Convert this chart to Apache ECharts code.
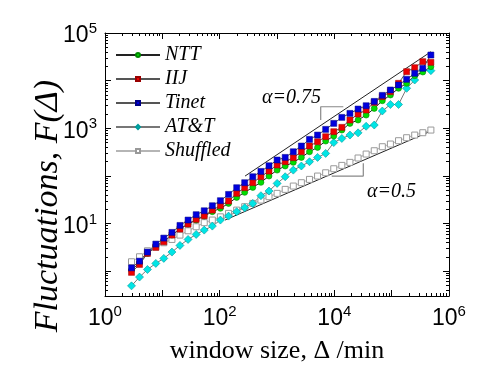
<!DOCTYPE html>
<html>
<head>
<meta charset="utf-8">
<script src="https://cdn.jsdelivr.net/npm/echarts@6/dist/echarts.min.js"></script>
<style>
  html, body { margin: 0; padding: 0; background: #fff; }
  #main { width: 491px; height: 379px; }
</style>
</head>
<body>
<div id="main"></div>
<script>
// window sizes (min)
const windowSizes = [2.9, 4.0, 5.5, 7.7, 10.6, 14.7, 20.3, 28.1, 38.9, 53.8, 74.5, 103, 143, 198, 273, 378, 524, 725, 1004, 1390,
  1923, 2661, 3684, 5100, 7060, 9772, 13520, 18710, 25940, 35890, 49660, 68710, 95070, 131800, 182400, 252300, 349100, 483100];

const ntt = [1.05, 1.50, 2.35, 3.35, 4.27, 5.70, 7.75, 9.72, 11.8, 14.3, 17.7, 20.8, 26.4, 35.3, 45.0, 57.3, 73.0, 99.1, 132, 161,
  192, 244, 321, 396, 538, 686, 916, 1265, 1486, 1892, 2610, 3780, 4990, 6890, 8770, 12700, 15170, 19630];
const iij = [0.94, 1.38, 2.35, 3.14, 4.13, 5.70, 7.62, 9.72, 12.2, 14.5, 19.1, 23.6, 29.6, 42.9, 56.4, 71.8, 95.9, 126, 169, 198,
  240, 321, 423, 521, 664, 846, 1043, 1486, 1987, 2410, 3490, 4600, 5860, 8770, 15420, 18700, 25000, 24200];
const tinet = [1.17, 1.62, 2.51, 3.69, 4.93, 6.49, 9.1, 11.8, 15.3, 18.5, 23.6, 30.1, 40.8, 56.4, 71.8, 95.9, 124, 163, 215, 244,
  321, 423, 583, 719, 946, 1265, 1690, 2050, 2530, 2970, 3660, 4900, 6350, 8090, 10640, 14220, 18110, 34500];
const att = [0.49, 0.75, 1.08, 1.45, 1.85, 2.51, 3.46, 4.62, 5.89, 7.26, 8.81, 11.8, 14.3, 17.7, 21.4, 26.4, 38.3, 48.0, 69.5, 95.9,
  132, 161, 198, 244, 296, 500, 610, 720, 800, 1100, 1167, 2300, 3150, 3150, 6890, 10300, 16700, 16200];
const shuffled = [1.57, 2.00, 2.67, 3.24, 3.94, 4.62, 5.70, 7.03, 8.53, 10.4, 11.8, 13.8, 16.3, 19.1, 22.5, 26.4, 31.0, 36.5, 42.9, 52.0,
  61.1, 71.8, 84.3, 99.1, 116, 141, 166, 192, 237, 287, 337, 409, 466, 547, 632, 719, 805, 916];

// guide lines and their slope brackets
const guide075 = [[277, 99], [485000, 40460]];
const guide05 = [[124, 11.8], [485000, 873]];
const bracket075 = [[5785, 1486], [5785, 2830], [14350, 2830]];
const bracket05 = [[9000, 99], [32000, 99], [32000, 183]];

const pairs = (ys) => windowSizes.map((x, i) => [x, ys[i]]);

const serif = "'Liberation Serif', 'Times New Roman', serif";
const sans = "'Liberation Sans', Arial, sans-serif";

function powLabel(v, odd) {
  const e = Math.round(Math.log10(v));
  if (Math.abs(Math.log10(v) - e) > 1e-6) return '';
  if (Math.abs(e % 2) !== (odd ? 1 : 0)) return '';
  return '{b|10}{s|' + e + '}';
}

const richPow = {
  b: { fontSize: 23, fontFamily: sans, color: '#000', lineHeight: 23, padding: [6, 0, 0, 0] },
  s: { fontSize: 15, fontFamily: sans, color: '#000', lineHeight: 15, verticalAlign: 'top' }
};

function logAxis(pos, min, max, showLabel, odd) {
  return {
    type: 'log',
    logBase: 10,
    position: pos,
    min: min,
    max: max,
    splitNumber: 6,
    axisLine: { show: true, onZero: false, lineStyle: { color: '#000', width: 1 } },
    axisTick: { show: true, inside: true, length: 6, lineStyle: { color: '#000' } },
    minorTick: { show: true, splitNumber: 9, length: 3, lineStyle: { color: '#000' } },
    splitLine: { show: false },
    minorSplitLine: { show: false },
    axisLabel: {
      show: showLabel,
      margin: 8,
      formatter: (v) => powLabel(v, odd),
      rich: richPow
    }
  };
}

const chart = echarts.init(document.getElementById('main'));

const markerLine = (color) => ({ color: color, width: 1 });

chart.setOption({
  backgroundColor: '#fff',
  animation: false,
  grid: { left: 105, right: 42, top: 33, bottom: 83, show: false },
  xAxis: [
    Object.assign(logAxis('bottom', 1, 1e6, true, false), {
      name: 'window size, \u0394 /min',
      nameLocation: 'middle',
      nameGap: 42,
      nameTextStyle: { fontFamily: serif, fontSize: 26, color: '#000' }
    }),
    logAxis('top', 1, 1e6, false, false)
  ],
  yAxis: [
    logAxis('left', 0.3, 1e5, true, true),
    logAxis('right', 0.3, 1e5, false, true)
  ],
  legend: {
    data: ['NTT', 'IIJ', 'Tinet', 'AT&T', 'Shuffled'],
    orient: 'vertical',
    left: 110,
    top: 40,
    itemWidth: 44,
    itemHeight: 5,
    itemGap: 4,
    textStyle: { fontFamily: serif, fontStyle: 'italic', fontSize: 20, color: '#000', lineHeight: 20 }
  },
  graphic: [
    {
      type: 'text', left: 31, top: 80, rotation: Math.PI / 2,
      style: { text: 'Fluctuations, F(\u0394)', font: 'italic 34px ' + serif, fill: '#000' }
    },
    {
      type: 'text', left: 262, top: 88,
      style: { text: '\u03b1=0.75', font: 'italic 20px ' + serif, fill: '#000' }
    },
    {
      type: 'text', left: 367, top: 182,
      style: { text: '\u03b1=0.5', font: 'italic 20px ' + serif, fill: '#000' }
    }
  ],
  series: [
    {
      name: 'guide075', type: 'line', data: guide075, symbol: 'none', silent: true,
      lineStyle: { color: '#222', width: 1 }
    },
    {
      name: 'guide05', type: 'line', data: guide05, symbol: 'none', silent: true,
      lineStyle: { color: '#222', width: 1 }
    },
    {
      name: 'bracket075', type: 'line', data: bracket075, symbol: 'none', silent: true,
      lineStyle: { color: '#888', width: 1.2 }
    },
    {
      name: 'bracket05', type: 'line', data: bracket05, symbol: 'none', silent: true,
      lineStyle: { color: '#888', width: 1.2 }
    },
    {
      name: 'Shuffled', type: 'line', data: pairs(shuffled), symbol: 'rect', symbolSize: 6,
      itemStyle: { color: '#fff', borderColor: '#999', borderWidth: 1 },
      lineStyle: markerLine('#b5b5b5')
    },
    {
      name: 'AT&T', type: 'line', data: pairs(att), symbol: 'diamond', symbolSize: 8,
      itemStyle: { color: '#00e5e5', borderColor: '#009a9a', borderWidth: 0.6 },
      lineStyle: markerLine('#777')
    },
    {
      name: 'NTT', type: 'line', data: pairs(ntt), symbol: 'circle', symbolSize: 6,
      itemStyle: { color: '#00dd00', borderColor: '#008800', borderWidth: 0.6 },
      lineStyle: markerLine('#222')
    },
    {
      name: 'IIJ', type: 'line', data: pairs(iij), symbol: 'rect', symbolSize: 6,
      itemStyle: { color: '#ee0000', borderColor: '#990000', borderWidth: 0.5 },
      lineStyle: markerLine('#555')
    },
    {
      name: 'Tinet', type: 'line', data: pairs(tinet), symbol: 'rect', symbolSize: 6,
      itemStyle: { color: '#0000dd', borderColor: '#000088', borderWidth: 0.5 },
      lineStyle: markerLine('#555')
    }
  ]
});
</script>
</body>
</html>
